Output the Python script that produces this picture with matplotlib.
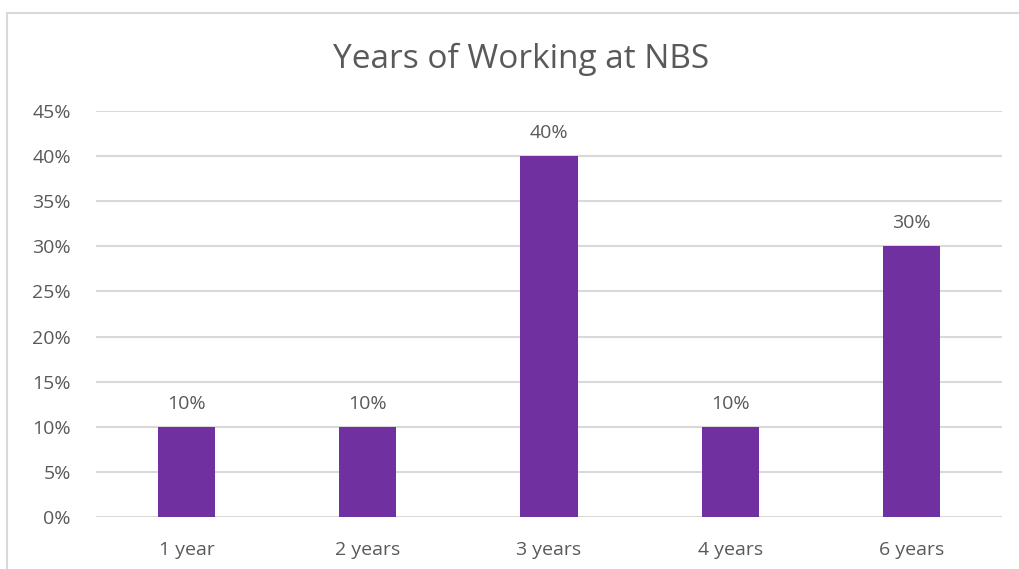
import matplotlib
matplotlib.use("Agg")
import matplotlib.pyplot as plt
from matplotlib.patches import Rectangle

categories = ["1 year", "2 years", "3 years", "4 years", "6 years"]
values = [10, 10, 40, 10, 30]
yticks = [0, 5, 10, 15, 20, 25, 30, 35, 40, 45]
title = "Years of Working at NBS"

plt.rcParams['font.family'] = ['Open Sans', 'DejaVu Sans']
text_color = "#595959"
grid_color = "#d9d9d9"
bar_color = "#7030A0"

fig = plt.figure(figsize=(10.2, 5.69), dpi=100)
fig.patch.set_facecolor("white")
# chart border (cropped at right and bottom)
W, H = 1020, 569
fig.patches.append(Rectangle((7 / W, -0.1), 1.2, 1 - 13 / H + 0.1, transform=fig.transFigure,
                             fill=False, edgecolor=grid_color, linewidth=1.5))

ax = fig.add_axes([96 / W, 1 - 517 / H, (1002 - 96) / W, (517 - 111) / H])
x = range(len(categories))
ax.bar(x, values, width=0.315, color=bar_color, zorder=3)
ax.set_xlim(-0.5, len(categories) - 0.5)
ax.set_ylim(0, 45)
ax.set_yticks(yticks)
ax.set_yticklabels([f"{t}%" for t in yticks])
ax.set_xticks(list(x))
ax.set_xticklabels(categories)
ax.yaxis.grid(True, color=grid_color, linewidth=1.5, zorder=0)
ax.set_axisbelow(True)
for s in ax.spines.values():
    s.set_visible(False)
ax.tick_params(axis='both', length=0, labelsize=14, labelcolor=text_color)
ax.tick_params(axis='y', pad=18)
ax.tick_params(axis='x', pad=17)
for xi, v in zip(x, values):
    ax.annotate(f"{v}%", (xi, v), xytext=(0, 10), textcoords="offset points",
                ha="center", va="bottom", fontsize=14, color=text_color)

fig.text(521 / W, 1 - 59 / H, title, ha="center", va="center", fontsize=24, color=text_color)

fig.savefig("out.png", dpi=100, facecolor="white")
